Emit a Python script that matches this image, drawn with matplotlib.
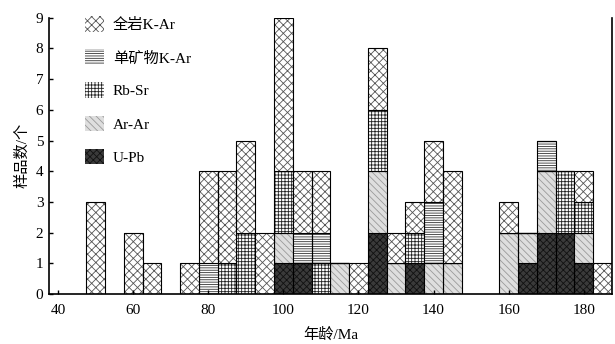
import numpy as np
import matplotlib
matplotlib.use("Agg")
import matplotlib.pyplot as plt
from matplotlib.patches import Patch

plt.rcParams['font.family'] = ['Liberation Serif', 'Noto Sans CJK SC']
plt.rcParams['hatch.linewidth'] = 0.6

# age bins (Ma, bin centres, width 5)
ages = [50, 60, 65, 75, 80, 85, 90, 95, 100, 105, 110, 115, 120,
        125, 130, 135, 140, 145, 160, 165, 170, 175, 180, 185]

# sample counts per method, bottom to top of each stack
u_pb = [0, 0, 0, 0, 0, 0, 0, 0, 1, 1, 0, 0, 0,
        2, 0, 1, 0, 0, 0, 1, 2, 2, 1, 0]
ar_ar = [0, 0, 0, 0, 0, 0, 0, 0, 1, 0, 0, 1, 0,
         2, 1, 0, 1, 1, 2, 1, 2, 0, 1, 0]
rb_sr = [0, 0, 0, 0, 0, 1, 2, 0, 2, 0, 1, 0, 0,
         2, 0, 1, 0, 0, 0, 0, 0, 2, 1, 0]
mineral_k_ar = [0, 0, 0, 0, 1, 0, 0, 0, 0, 1, 1, 0, 0,
                0, 0, 0, 2, 0, 0, 0, 1, 0, 0, 0]
whole_rock_k_ar = [3, 2, 1, 1, 3, 3, 3, 2, 5, 2, 2, 0, 1,
                   2, 1, 1, 2, 3, 1, 0, 0, 0, 1, 1]

series = [
    ("U-Pb", u_pb, "#3a3a3a", "#111111", "xxxxx"),
    ("Ar-Ar", ar_ar, "#dedede", "#9a9a9a", "\\\\\\\\\\"),
    ("Rb-Sr", rb_sr, "white", "#222222", "+++++"),
    ("单矿物K-Ar", mineral_k_ar, "white", "#333333", "-------"),
    ("全岩K-Ar", whole_rock_k_ar, "white", "#555555", "xxxx"),
]

fig = plt.figure(figsize=(6.15, 3.44), dpi=100)
ax = fig.add_axes([0.0797, 0.1453, 0.9153, 0.8032])

bottom = np.zeros(len(ages))
for name, vals, face, hcol, hatch in series:
    vals = np.array(vals, dtype=float)
    ax.bar(ages, vals, width=5, bottom=bottom, color=face,
           edgecolor=hcol, hatch=hatch, linewidth=0)
    ax.bar(ages, vals, width=5, bottom=bottom, fill=False,
           edgecolor="black", linewidth=0.8)
    bottom += vals

ax.set_xlim(37.6, 187.5)
ax.set_ylim(0, 9)
ax.set_xticks(range(40, 181, 20))
ax.set_yticks(range(0, 10))
ax.tick_params(direction="in", length=3, width=1, labelsize=11)
ax.tick_params(axis="x", pad=7)
ax.tick_params(axis="y", pad=4)
ax.spines["top"].set_visible(False)
for s in ["left", "bottom", "right"]:
    ax.spines[s].set_linewidth(1.2)

ax.set_xlabel("年龄/Ma", fontsize=11, labelpad=8)
ax.set_ylabel("样品数/个", fontsize=11, labelpad=5)

handles = [Patch(facecolor=face, edgecolor=hcol, hatch=hatch, linewidth=0, label=name)
           for name, vals, face, hcol, hatch in reversed(series)]
ax.legend(handles=handles, loc="upper left", bbox_to_anchor=(0.04, 1.055),
          frameon=False, fontsize=11, handlelength=1.2, handleheight=1.2,
          labelspacing=1.12, handletextpad=0.6)

fig.savefig("out.png", dpi=100)
plt.close(fig)
